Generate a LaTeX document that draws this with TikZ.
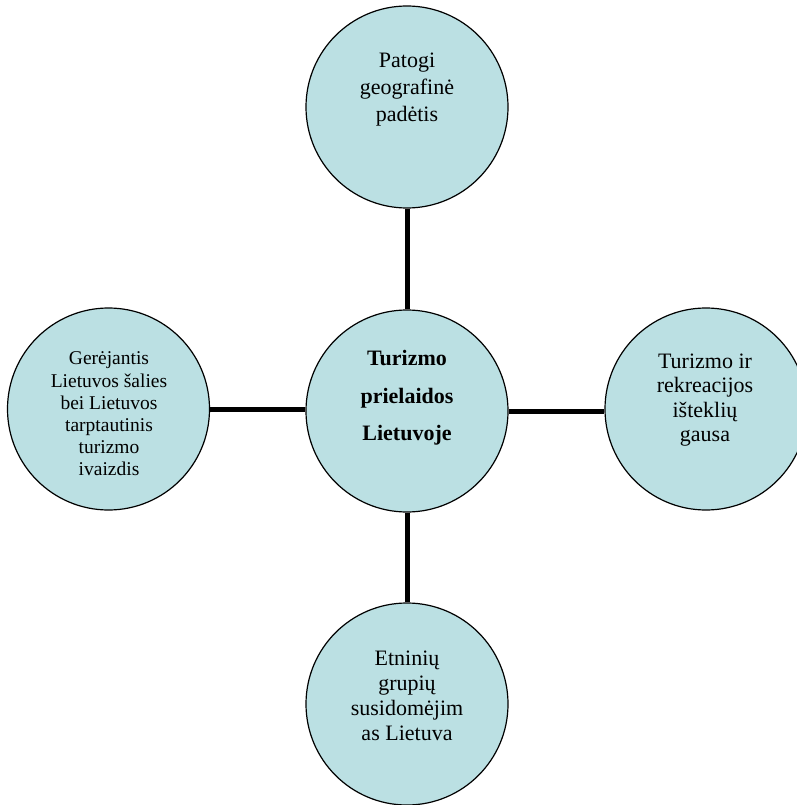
\documentclass[tikz,border=0pt]{standalone}
\usepackage{fontspec}
\setmainfont{Liberation Serif}
\definecolor{bubble}{RGB}{187,224,227}
\tikzset{
  bubble/.style={circle, draw=black, line width=1.2pt, fill=bubble, minimum size=202pt, inner sep=0pt},
  link/.style={line width=5pt, black},
  txt/.style={align=center, inner sep=0pt, text=black}
}
\begin{document}
\begin{tikzpicture}[x=1pt,y=1pt]
\useasboundingbox (0,0) rectangle (796,-805);
\node[bubble] (C) at (407,-411) {};
\node[bubble] (T) at (407,-107) {};
\node[bubble] (L) at (108.5,-409) {};
\node[bubble] (R) at (706,-409) {};
\node[bubble] (B) at (407,-704) {};
\draw[link] (T.south) -- (C.north);
\draw[link] (L.east) -- (L.east -| C.west);
\draw[link] (C.east) -- (C.east -| R.west);
\draw[link] (C.south) -- (B.north);
\node[txt, font=\fontsize{22}{27}\selectfont] (tT) at (407,-90) {Patogi\\geografinė\\padėtis};
\node[txt, font=\fontsize{22}{37.5}\selectfont\bfseries] (tC) at (407,-398) {Turizmo\\prielaidos\\Lietuvoje};
\node[txt, font=\fontsize{19.5}{22.2}\selectfont] (tL) at (109,-414) {Gerėjantis\\Lietuvos šalies\\bei Lietuvos\\tarptautinis\\turizmo\\ivaizdis};
\node[txt, font=\fontsize{22}{24.4}\selectfont] (tR) at (705,-400) {Turizmo ir\\rekreacijos\\išteklių\\gausa};
\node[txt, font=\fontsize{22}{25}\selectfont] (tB) at (407,-696) {Etninių\\grupių\\susidomėjim\\as Lietuva};
\end{tikzpicture}
\end{document}
